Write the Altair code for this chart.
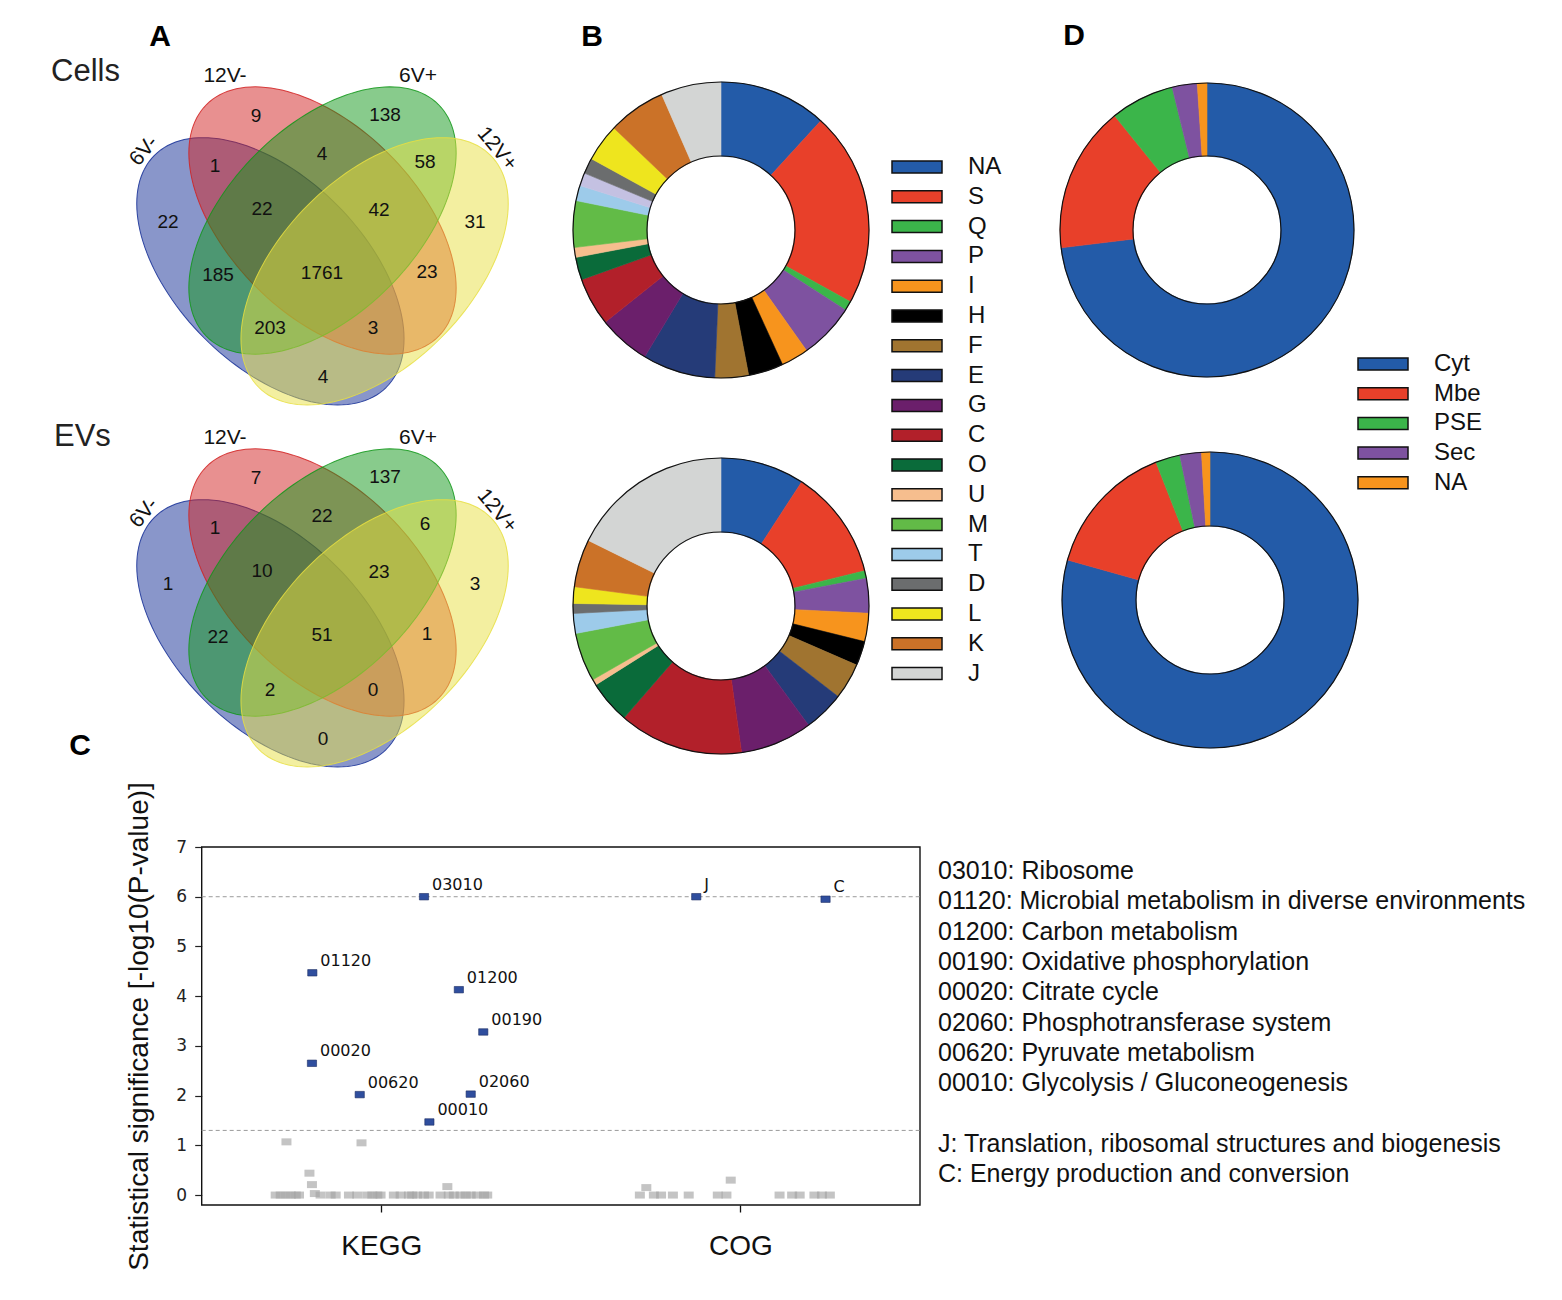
import numpy as np
import pandas as pd
import altair as alt

# ======================= DATA =======================
# Panel A: Venn diagrams (protein counts per region)
venn_sets = ["6V-", "12V-", "6V+", "12V+"]
venn_regions = ["6V-", "12V-", "6V+", "12V+",
                "6V-/12V-", "12V-/6V+", "6V+/12V+",
                "6V-/12V-/6V+", "12V-/6V+/12V+", "6V-/6V+",
                "6V-/12V-/6V+/12V+", "12V-/12V+",
                "6V-/6V+/12V+", "6V-/12V-/12V+", "6V-/12V+"]
cells_counts = [22, 9, 138, 31, 1, 4, 58, 22, 42, 185, 1761, 23, 203, 3, 4]
evs_counts = [1, 7, 137, 3, 1, 22, 6, 10, 23, 22, 51, 1, 2, 0, 0]
venn_titles = ["Cells", "EVs"]

# Panel B: COG categories (% of proteins)
cog_categories = ["NA", "S", "Q", "P", "I", "H", "F", "E", "G", "C", "O", "U",
                  "M", "T", "V", "D", "L", "K", "J"]
cog_colors = ["#235BA8", "#E8402A", "#3BB54A", "#7E52A0", "#F7941D", "#000000",
              "#A07430", "#253B78", "#6B1F6B", "#B2202A", "#0A6B3A", "#F6BE8E",
              "#62BB47", "#9DCBEA", "#C4C1E2", "#6B6D6E", "#EEE51E", "#CB7228",
              "#D3D5D4"]
cog_legend = ["NA", "S", "Q", "P", "I", "H", "F", "E", "G", "C", "O", "U",
              "M", "T", "D", "L", "K", "J"]
cells_cog_pct = [11.78, 21.28, 1.03, 6.08, 3.00, 3.83, 3.67, 7.94, 5.69, 5.25,
                 2.47, 1.08, 5.08, 1.67, 1.42, 1.72, 4.11, 6.33, 6.56]
evs_cog_pct = [9.17, 12.00, 0.83, 3.78, 3.08, 2.67, 3.94, 4.44, 7.86, 13.58,
               4.69, 0.64, 5.33, 2.17, 0.00, 1.08, 1.81, 5.22, 17.69]

# Panel D: subcellular localisation (% of proteins)
loc_categories = ["Cyt", "Mbe", "PSE", "Sec", "NA"]
loc_colors = ["#235BA8", "#E8402A", "#3BB54A", "#7E52A0", "#F7941D"]
cells_loc_pct = [73.0, 16.1, 7.0, 2.75, 1.06]
evs_loc_pct = [79.4, 14.7, 2.67, 2.36, 0.92]

# Panel C: enrichment
x_groups = ["KEGG", "COG"]
kegg_ids = ["03010", "01120", "01200", "00190", "00020", "02060", "00620", "00010"]
kegg_names = ["Ribosome", "Microbial metabolism in diverse environments",
              "Carbon metabolism", "Oxidative phosphorylation", "Citrate cycle",
              "Phosphotransferase system", "Pyruvate metabolism",
              "Glycolysis / Gluconeogenesis"]
kegg_sig = [6.00, 4.47, 4.13, 3.28, 2.65, 2.03, 2.02, 1.47]
kegg_jitter = [0.119, -0.192, 0.216, 0.284, -0.193, 0.249, -0.060, 0.134]
cog_ids = ["J", "C"]
cog_names = ["Translation, ribosomal structures and biogenesis",
             "Energy production and conversion"]
cog_sig = [6.00, 5.95]
cog_jitter = [-0.123, 0.237]
kegg_ns_jitter = [-0.294, -0.280, -0.266, -0.252, -0.238, -0.229, -0.169, -0.141,
                  -0.127, -0.090, -0.067, -0.039, -0.025, -0.011, -0.002, 0.035,
                  0.054, 0.077, 0.086, 0.100, 0.119, 0.132, 0.165, 0.188, 0.202,
                  0.221, 0.235, 0.249, 0.267, 0.286, 0.295,
                  -0.264, -0.055, -0.200, -0.193, -0.185, 0.184]
kegg_ns_sig = [0, 0, 0, 0, 0, 0, 0, 0, 0, 0, 0, 0, 0, 0, 0, 0,
               0, 0, 0, 0, 0, 0, 0, 0, 0, 0, 0, 0, 0, 0, 0,
               1.07, 1.05, 0.44, 0.21, 0.03, 0.17]
cog_ns_jitter = [-0.280, -0.241, -0.221, -0.188, -0.144, -0.063, -0.039, 0.109,
                 0.144, 0.165, 0.206, 0.227, 0.249, -0.262, -0.027]
cog_ns_sig = [0, 0, 0, 0, 0, 0, 0, 0, 0, 0, 0, 0, 0, 0.15, 0.30]
thresholds = [6.0, 1.3]

# ======================= LAYOUT =======================
OFF = 8                      # page margin
W, H = 1546, 1284
FONT = "Liberation Sans"

# Venn ellipse geometry (page px) for the "Cells" panel; EVs shifted down
ELL_A, ELL_B, UNIT = 164.0, 94.0, 100.0
_t = np.linspace(0.0, 2 * np.pi, 144, endpoint=False)
ellipse_path = "M" + "L".join(
    f"{ELL_A * np.cos(a) / UNIT:.4f},{ELL_B * np.sin(a) / UNIT:.4f}" for a in _t) + "Z"
venn_geom = {"6V-": (270.4, 271.3, 45), "12V-": (322.5, 220.5, 45),
             "6V+": (322.5, 220.5, 135), "12V+": (374.6, 271.3, 135)}
venn_fill = {"6V-": "#132D95", "12V-": "#D12121", "6V+": "#119719", "12V+": "#E7DF41"}
panel_dy = [0, 362]
region_xy = [(168, 222), (256, 116), (385, 115), (475, 222), (215, 166), (322, 154),
             (425, 162), (262, 209), (379, 210), (218, 275), (322, 273), (427, 272),
             (270, 328), (373, 328), (323, 377)]
set_label_xy = {"6V-": (144, 151, 310), "12V-": (225, 76, 0),
                "6V+": (418, 76, 0), "12V+": (497, 149, 50)}
title_xy = [(51, 72), (54, 437)]

XPIX = alt.X("px:Q", scale=None, axis=None)
YPIX = alt.Y("py:Q", scale=None, axis=None)

layers = []

# ---------- Panel A ----------
ell_rows, cnt_rows, lab_rows, ttl_rows = [], [], [], []
for p, dy in enumerate(panel_dy):
    for s in venn_sets:
        x, y, rot = venn_geom[s]
        ell_rows.append({"px": x - OFF, "py": y + dy - OFF, "rot": rot, "col": venn_fill[s]})
        lx, ly, la = set_label_xy[s]
        lab_rows.append({"px": lx - OFF, "py": ly + dy - OFF, "rot": la, "t": s})
    counts = [cells_counts, evs_counts][p]
    for (rx, ry), reg, n in zip(region_xy, venn_regions, counts):
        cnt_rows.append({"px": rx - OFF, "py": ry + dy - OFF, "t": str(n), "region": reg})
    ttl_rows.append({"px": title_xy[p][0] - OFF, "py": title_xy[p][1] - OFF, "t": venn_titles[p]})

layers.append(alt.Chart(pd.DataFrame(ell_rows)).mark_point(
    shape=ellipse_path, size=(2 * UNIT) ** 2, filled=True, opacity=1,
    fillOpacity=0.5, strokeOpacity=0.85, strokeWidth=1).encode(
    x=XPIX, y=YPIX, angle=alt.Angle("rot:Q", scale=None),
    fill=alt.Fill("col:N", scale=None), stroke=alt.Stroke("col:N", scale=None)))
layers.append(alt.Chart(pd.DataFrame(cnt_rows)).mark_text(
    font=FONT, fontSize=19, color="#111", align="center", baseline="middle").encode(
    x=XPIX, y=YPIX, text="t:N"))
layers.append(alt.Chart(pd.DataFrame(lab_rows)).mark_text(
    font=FONT, fontSize=21, color="#111", align="center", baseline="middle").encode(
    x=XPIX, y=YPIX, text="t:N", angle=alt.Angle("rot:Q", scale=None)))
layers.append(alt.Chart(pd.DataFrame(ttl_rows)).mark_text(
    font=FONT, fontSize=31, color="#222", align="left", baseline="middle").encode(
    x=XPIX, y=YPIX, text="t:N"))

# ---------- Donuts (B, D) ----------
def donut(cats, vals, colors, cx, cy, r_out, r_in):
    df = pd.DataFrame({"cat": cats, "value": vals, "idx": list(range(len(cats)))})
    sc = alt.Scale(domain=cats, range=colors)
    arcs = alt.Chart(df).transform_filter("datum.value > 0").mark_arc(
        outerRadius=r_out, innerRadius=r_in, strokeWidth=0.6).encode(
        theta=alt.Theta("value:Q", stack="normalize"),
        order=alt.Order("idx:Q"),
        color=alt.Color("cat:N", scale=sc, legend=None),
        stroke=alt.Stroke("cat:N", scale=sc, legend=None),
        x=alt.value(cx - OFF), y=alt.value(cy - OFF))
    ring = alt.Chart(pd.DataFrame({"k": [0]})).mark_arc(
        outerRadius=r_out, innerRadius=r_in, theta=0, theta2=6.2832,
        fillOpacity=0, stroke="#111", strokeWidth=1.2).encode(
        x=alt.value(cx - OFF), y=alt.value(cy - OFF))
    return [arcs, ring]

layers += donut(cog_categories, cells_cog_pct, cog_colors, 721, 230, 148, 74)
layers += donut(cog_categories, evs_cog_pct, cog_colors, 721, 606, 148, 74)
layers += donut(loc_categories, cells_loc_pct, loc_colors, 1207, 230, 147, 74)
layers += donut(loc_categories, evs_loc_pct, loc_colors, 1210, 600, 148, 74)

RECT_PATH = "M-1,-0.24L1,-0.24L1,0.24L-1,0.24Z"

def legend(cats, all_cats, colors, sym_x, lab_x, y0, step):
    df = pd.DataFrame({"cat": cats, "i": list(range(len(cats)))})
    sc = alt.Scale(domain=all_cats, range=colors)
    base = alt.Chart(df).transform_calculate(py=f"{y0 - OFF} + datum.i * {step}")
    sym = base.mark_point(shape=RECT_PATH, size=2500, filled=True, opacity=1,
                          stroke="#111", strokeWidth=1.5).encode(
        x=alt.value(sym_x - OFF), y=YPIX,
        color=alt.Color("cat:N", scale=sc, legend=None))
    txt = base.mark_text(font=FONT, fontSize=24, color="#111", align="left",
                         baseline="middle").encode(
        x=alt.value(lab_x - OFF), y=YPIX, text="cat:N")
    return [sym, txt]

layers += legend(cog_legend, cog_categories, cog_colors, 917, 968, 167, 29.8)
layers += legend(loc_categories, loc_categories, loc_colors, 1383, 1434, 364, 29.7)

# ---------- Panel C ----------
xs = alt.Scale(domain=[-0.5, 1.5], range=[201.7 - OFF, 920 - OFF], nice=False, zero=False)
ys = alt.Scale(domain=[-0.2, 7], range=[1205 - OFF, 847 - OFF], nice=False, zero=False)

frame_df = pd.DataFrame({"x0": [-0.5], "x1": [1.5], "y0": [-0.2], "y1": [7.0]})
layers.append(alt.Chart(frame_df).mark_rect(fillOpacity=0, stroke="#111", strokeWidth=1.4).encode(
    x=alt.X("x0:Q", scale=xs, axis=None), x2="x1",
    y=alt.Y("y0:Q", scale=ys, axis=None), y2="y1"))

rule_df = pd.DataFrame({"y": thresholds, "xa": [-0.5, -0.5], "xb": [1.5, 1.5]})
layers.append(alt.Chart(rule_df).mark_rule(color="#9a9a9a", strokeDash=[4, 3], strokeWidth=1).encode(
    y=alt.Y("y:Q", scale=ys, axis=None),
    x=alt.X("xa:Q", scale=xs, axis=None), x2="xb"))

ns_df = pd.DataFrame({
    "pos": [0 + j for j in kegg_ns_jitter] + [1 + j for j in cog_ns_jitter],
    "sig": kegg_ns_sig + cog_ns_sig})
BOX = "M-1,-0.7L1,-0.7L1,0.7L-1,0.7Z"
layers.append(alt.Chart(ns_df).mark_point(shape=BOX, size=100, filled=True,
                                          color="#a4a4a4", opacity=0.65).encode(
    x=alt.X("pos:Q", scale=xs, axis=None), y=alt.Y("sig:Q", scale=ys, axis=None)))

sig_df = pd.DataFrame({
    "pos": [0 + j for j in kegg_jitter] + [1 + j for j in cog_jitter],
    "sig": kegg_sig + cog_sig,
    "id": kegg_ids + cog_ids})
layers.append(alt.Chart(sig_df).mark_point(shape=BOX, size=85, filled=True, opacity=1,
                                           color="#2F4E9E", stroke="#1c2d63",
                                           strokeWidth=0.6).encode(
    x=alt.X("pos:Q", scale=xs, axis=alt.Axis(
        orient="bottom", offset=-(H - (1205 - OFF)), values=[0, 1],
        labelExpr="datum.value == 0 ? 'KEGG' : 'COG'", labelFont=FONT,
        labelFontSize=28, labelColor="#111", labelPadding=20, tickSize=7,
        tickColor="#111", tickWidth=1.3, domain=False, grid=False, title=None)),
    y=alt.Y("sig:Q", scale=ys, axis=alt.Axis(
        orient="left", offset=-(201.7 - OFF), values=[0, 1, 2, 3, 4, 5, 6, 7],
        labelFont="DejaVu Sans", labelFontSize=17, labelColor="#222",
        labelPadding=8, tickSize=7, tickColor="#222", tickWidth=1.2,
        domain=False, grid=False,
        title="Statistical significance [-log10(P-value)]", titleFont=FONT,
        titleFontSize=28, titleFontWeight="normal", titleColor="#111",
        titlePadding=22))))
layers.append(alt.Chart(sig_df).mark_text(font="DejaVu Sans", fontSize=16, color="#111",
                                          align="left", baseline="middle", dx=8, dy=-12).encode(
    x=alt.X("pos:Q", scale=xs, axis=None), y=alt.Y("sig:Q", scale=ys, axis=None),
    text="id:N"))

# annotation list
ann = [f"{k}: {n}" for k, n in zip(kegg_ids, kegg_names)] + [""] + \
      [f"{k}: {n}" for k, n in zip(cog_ids, cog_names)]
ann_df = pd.DataFrame({"t": ann, "i": list(range(len(ann)))})
layers.append(alt.Chart(ann_df).transform_calculate(py=f"{871 - OFF} + datum.i * 30.3").mark_text(
    font=FONT, fontSize=25, color="#111", align="left", baseline="middle").encode(
    x=alt.value(938 - OFF), y=YPIX, text="t:N"))

# panel letters
letters = pd.DataFrame({"t": ["A", "B", "D", "C"],
                        "px": [160 - OFF, 592 - OFF, 1074 - OFF, 80 - OFF],
                        "py": [37 - OFF, 37 - OFF, 36 - OFF, 746 - OFF]})
layers.append(alt.Chart(letters).mark_text(font=FONT, fontSize=30, fontWeight="bold",
                                           color="#000", align="center",
                                           baseline="middle").encode(
    x=XPIX, y=YPIX, text="t:N"))

chart = alt.layer(*layers).resolve_scale(
    x="independent", y="independent", color="independent", stroke="independent",
    theta="independent").properties(
    width=W, height=H, padding=0, background="white",
    autosize=alt.AutoSizeParams(type="none")).configure_view(stroke=None)

chart.save("out.html", embed_options={"renderer": "svg", "actions": False})
